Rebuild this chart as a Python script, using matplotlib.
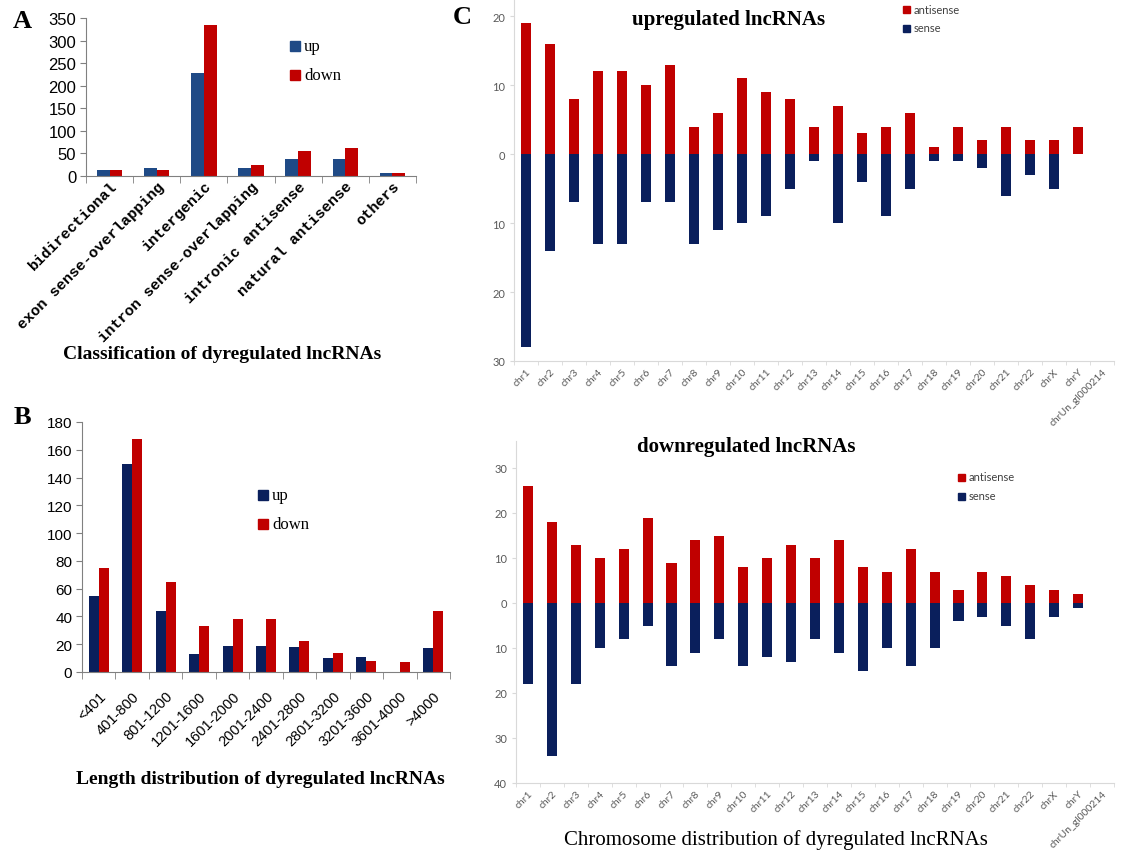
import matplotlib
matplotlib.use("Agg")
import matplotlib.pyplot as plt
from matplotlib.ticker import FuncFormatter, MultipleLocator
import numpy as np

# Panel A: classification
class_labels = ["bidirectional", "exon sense-overlapping", "intergenic",
                "intron sense-overlapping", "intronic antisense",
                "natural antisense", "others"]
class_up = [14, 18, 228, 18, 37, 37, 7]
class_down = [14, 14, 334, 24, 56, 61, 7]

# Panel B: length distribution
len_labels = ["<401", "401-800", "801-1200", "1201-1600", "1601-2000", "2001-2400",
              "2401-2800", "2801-3200", "3201-3600", "3601-4000", ">4000"]
len_up = [55, 150, 44, 13, 19, 19, 18, 10, 11, 0, 17]
len_down = [75, 168, 65, 33, 38, 38, 22, 14, 8, 7, 44]

# Panel C: chromosome distribution
chroms = ["chr%d" % i for i in range(1, 23)] + ["chrX", "chrY", "chrUn_gl000214"]
up_antisense = [19, 16, 8, 12, 12, 10, 13, 4, 6, 11, 9, 8, 4, 7, 3, 4, 6, 1, 4, 2, 4, 2, 2, 4, 0]
up_sense = [28, 14, 7, 13, 13, 7, 7, 13, 11, 10, 9, 5, 1, 10, 4, 9, 5, 1, 1, 2, 6, 3, 5, 0, 0]
down_antisense = [26, 18, 13, 10, 12, 19, 9, 14, 15, 8, 10, 13, 10, 14, 8, 7, 12, 7, 3, 7, 6, 4, 3, 2, 0]
down_sense = [18, 34, 18, 10, 8, 5, 14, 11, 8, 14, 12, 13, 8, 11, 15, 10, 14, 10, 4, 3, 5, 8, 3, 1, 0]

RED = "#C00000"
BLUE_A = "#1F4A86"
NAVY = "#0A1F5C"

W, H = 1121, 854
fig = plt.figure(figsize=(W / 100, H / 100), dpi=100, facecolor="white")


def box(x0, y0, x1, y1):
    """pixel box (top-left origin) -> figure fraction rect"""
    return [x0 / W, 1 - y1 / H, (x1 - x0) / W, (y1 - y0) / H]


def px(x, y):
    return x / W, 1 - y / H


def excel_axes(ax, n, ysize):
    for s in ["top", "right"]:
        ax.spines[s].set_visible(False)
    for s in ["left", "bottom"]:
        ax.spines[s].set_color("#808080")
    ax.set_xlim(-0.5, n - 0.5)
    ax.set_xticks(np.arange(n))
    ax.set_xticks(np.arange(n + 1) - 0.5, minor=True)
    ax.tick_params(axis="x", which="major", length=0, pad=2)
    ax.tick_params(axis="x", which="minor", length=5, color="#808080")
    ax.tick_params(axis="y", length=4, color="#808080", labelsize=ysize, pad=3)
    for t in ax.get_yticklabels():
        t.set_family("Liberation Sans")


def legend_boxes(x, y0, dy, labels, colors, size, family, tcolor="black", sq=10):
    for i, (lab, c) in enumerate(zip(labels, colors)):
        y = y0 + i * dy
        fig.patches.append(plt.Rectangle(px(x, y + sq / 2), sq / W, sq / H,
                                         transform=fig.transFigure, color=c))
        fig.text(*px(x + sq + 4, y), lab, fontsize=size, family=family,
                 color=tcolor, va="center", ha="left")


# ---------- Panel A ----------
axA = fig.add_axes(box(86, 19, 416, 177))
xa = np.arange(len(class_labels))
bw = 0.27
axA.bar(xa - bw / 2, class_up, bw, color=BLUE_A)
axA.bar(xa + bw / 2, class_down, bw, color=RED)
axA.set_ylim(0, 350)
axA.yaxis.set_major_locator(MultipleLocator(50))
excel_axes(axA, len(class_labels), 12)
axA.set_xticklabels(class_labels, rotation=45, ha="right", rotation_mode="anchor",
                    family="Liberation Mono", fontsize=11, weight="bold")
legend_boxes(290, 47, 29, ["up", "down"], [BLUE_A, RED], 12, "Liberation Serif")

# ---------- Panel B ----------
axB = fig.add_axes(box(82, 423, 450, 673))
xb = np.arange(len(len_labels))
bw = 0.3
axB.bar(xb - bw / 2, len_up, bw, color=NAVY)
axB.bar(xb + bw / 2, len_down, bw, color=RED)
axB.set_ylim(0, 180)
axB.yaxis.set_major_locator(MultipleLocator(20))
excel_axes(axB, len(len_labels), 11)
axB.set_xticklabels(len_labels, rotation=45, ha="right", rotation_mode="anchor",
                    family="Liberation Sans", fontsize=10.5)
axB.tick_params(axis="x", which="major", pad=12)
legend_boxes(258, 496, 29, ["up", "down"], [NAVY, RED], 12, "Liberation Serif")


# ---------- Panel C ----------
def chrom_axes(rect, anti, sense, ylim, step):
    ax = fig.add_axes(rect)
    xc = np.arange(len(chroms))
    ax.bar(xc, anti, 0.42, color=RED)
    ax.bar(xc, -np.array(sense), 0.42, color=NAVY)
    ax.set_ylim(*ylim)
    ax.set_xlim(-0.5, len(chroms) - 0.5)
    ax.set_yticks(np.arange(-int(abs(ylim[0])), ylim[1] + 0.01, step))
    ax.yaxis.set_major_formatter(FuncFormatter(lambda v, p: "%d" % abs(v)))
    for s in ["top", "right"]:
        ax.spines[s].set_visible(False)
    for s in ["left", "bottom"]:
        ax.spines[s].set_color("#D9D9D9")
    ax.set_xticks(xc)
    ax.set_xticks(np.arange(len(chroms) + 1) - 0.5, minor=True)
    ax.set_xticklabels(chroms, rotation=45, ha="right", rotation_mode="anchor",
                       family="Lato", fontsize=7.5, color="#595959")
    ax.tick_params(axis="x", which="major", length=0, pad=4)
    ax.tick_params(axis="x", which="minor", length=3, color="#D9D9D9")
    ax.tick_params(axis="y", length=3, color="#D9D9D9", labelsize=8, labelcolor="#595959")
    for t in ax.get_yticklabels():
        t.set_family("Lato")
    return ax


axC1 = chrom_axes(box(514, 0, 1114, 362), up_antisense, up_sense, (-30, 22.5), 10)
axC2 = chrom_axes(box(516, 442, 1114, 784), down_antisense, down_sense, (-40, 36), 10)
legend_boxes(903, 10, 19, ["antisense", "sense"], [RED, NAVY], 8, "Lato", "#404040", sq=7)
legend_boxes(958, 478, 19, ["antisense", "sense"], [RED, NAVY], 8, "Lato", "#404040", sq=7)

# titles and panel letters
fig.text(*px(729, 20), "upregulated lncRNAs", fontsize=15, family="Liberation Serif",
         weight="bold", ha="center", va="center")
fig.text(*px(746, 447), "downregulated lncRNAs", fontsize=15, family="Liberation Serif",
         weight="bold", ha="center", va="center")
fig.text(*px(222, 355), "Classification of dyregulated lncRNAs", fontsize=14,
         family="Liberation Serif", weight="bold", ha="center", va="center")
fig.text(*px(260, 780), "Length distribution of dyregulated lncRNAs", fontsize=14,
         family="Liberation Serif", weight="bold", ha="center", va="center")
fig.text(*px(776, 840), "Chromosome distribution of dyregulated lncRNAs", fontsize=15,
         family="Liberation Serif", ha="center", va="center")
for letter, (x, y) in {"A": (22, 22), "B": (22, 418), "C": (462, 18)}.items():
    fig.text(*px(x, y), letter, fontsize=19, family="Liberation Serif",
             weight="bold", ha="center", va="center")

fig.savefig("out.png", dpi=100, facecolor="white")
